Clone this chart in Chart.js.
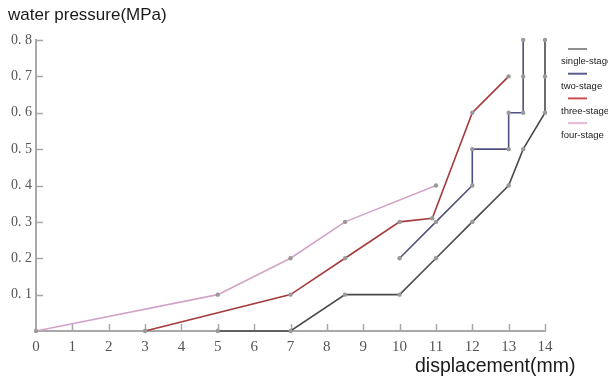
<!DOCTYPE html>
<html>
<head>
<meta charset="utf-8">
<script src="https://cdn.jsdelivr.net/npm/chart.js@4.4.1/dist/chart.umd.min.js"></script>
<style>
  html, body { margin: 0; padding: 0; background: #fff; }
  #wrap { width: 608px; height: 381px; position: relative; }
</style>
</head>
<body>
<div id="wrap"><canvas id="c" width="608" height="381"></canvas></div>
<script>
// ---- data ----
const seriesNames = ['single-stage', 'two-stage', 'three-stage', 'four-stage'];
const singleX = [5, 7, 8.5, 10, 11, 12, 13, 13.4, 14, 14, 14];
const singleY = [0, 0, 0.1, 0.1, 0.2, 0.3, 0.4, 0.5, 0.6, 0.7, 0.8];
const twoX = [10, 11, 12, 12, 13, 13, 13.4, 13.4, 13.4];
const twoY = [0.2, 0.3, 0.4, 0.5, 0.5, 0.6, 0.6, 0.7, 0.8];
const threeX = [3, 7, 8.5, 10, 10.9, 12, 13];
const threeY = [0, 0.1, 0.2, 0.3, 0.31, 0.6, 0.7];
const fourX = [0, 5, 7, 8.5, 11];
const fourY = [0, 0.1, 0.2, 0.3, 0.4];
const xTickValues = [0, 1, 2, 3, 4, 5, 6, 7, 8, 9, 10, 11, 12, 13, 14];
const yTickLabels = ['', '0. 1', '0. 2', '0. 3', '0. 4', '0. 5', '0. 6', '0. 7', '0. 8'];
const yAxisTitle = 'water pressure(MPa)';
const xAxisTitle = 'displacement(mm)';

// ---- styles ----
const lineColors = ['#4a4a4a', '#4d5080', '#a33b3b', '#d4a3c9'];
const legendColors = ['#8f8f8f', '#5a5c8c', '#c85252', '#e6b8d6'];

function pts(xs, ys) { return xs.map((x, i) => ({ x: x, y: ys[i] })); }
const seriesData = [pts(singleX, singleY), pts(twoX, twoY), pts(threeX, threeY), pts(fourX, fourY)];

const datasets = seriesData.map((d, i) => ({
  label: seriesNames[i],
  data: d,
  borderColor: lineColors[i],
  borderWidth: 1.6,
  pointRadius: 2.2,
  pointBackgroundColor: '#9a9a9a',
  pointBorderWidth: 0,
  tension: 0,
  fill: false,
  clip: false
}));

const decor = {
  id: 'decor',
  beforeDatasetsDraw(chart) {
    const ctx = chart.ctx;
    const xs = chart.scales.x, ys = chart.scales.y;
    const a = chart.chartArea;
    ctx.save();
    ctx.strokeStyle = '#a8a8a8';
    ctx.lineWidth = 1.5;
    ctx.beginPath();
    xTickValues.forEach(v => {
      if (v === 0) return;
      const px = Math.round(xs.getPixelForValue(v)) + 0.5;
      ctx.moveTo(px, a.bottom);
      ctx.lineTo(px, a.bottom - 7);
    });
    ys.ticks.forEach(t => {
      if (t.value === 0) return;
      const py = Math.round(ys.getPixelForValue(t.value)) + 0.5;
      ctx.moveTo(a.left, py);
      ctx.lineTo(a.left + 7, py);
    });
    ctx.stroke();
    ctx.restore();
  },
  afterDraw(chart) {
    const ctx = chart.ctx;
    ctx.save();
    ctx.fillStyle = '#1a1a1a';
    ctx.textBaseline = 'alphabetic';
    ctx.textAlign = 'left';
    ctx.font = '17px "Liberation Sans", Arial, sans-serif';
    ctx.fillText(yAxisTitle, 8, 20);
    ctx.font = '19.5px "Liberation Sans", Arial, sans-serif';
    ctx.fillText(xAxisTitle, 415, 372);
    // legend
    ctx.font = '9.5px "Liberation Sans", Arial, sans-serif';
    ctx.textBaseline = 'middle';
    seriesNames.forEach((name, i) => {
      const ly = 49 + i * 24.7;
      ctx.strokeStyle = legendColors[i];
      ctx.lineWidth = 2;
      ctx.beginPath();
      ctx.moveTo(568, ly);
      ctx.lineTo(587, ly);
      ctx.stroke();
      ctx.fillStyle = '#222';
      ctx.fillText(name, 561, ly + 12.5);
    });
    ctx.restore();
  }
};

new Chart(document.getElementById('c'), {
  type: 'line',
  data: { datasets: datasets },
  plugins: [decor],
  options: {
    responsive: false,
    devicePixelRatio: 1,
    animation: false,
    layout: { padding: { left: 0, top: 40, right: 63, bottom: 0 } },
    plugins: { legend: { display: false }, tooltip: { enabled: false }, title: { display: false } },
    scales: {
      x: {
        type: 'linear',
        min: 0, max: 14,
        afterFit(s) { s.height = 50; },
        afterBuildTicks(s) { s.ticks = xTickValues.map(v => ({ value: v })); },
        grid: { display: false, drawTicks: false },
        border: { display: true, color: '#a8a8a8', width: 2 },
        ticks: {
          padding: 7,
          color: '#555',
          font: { family: '"Liberation Serif", "DejaVu Serif", serif', size: 15 },
          maxRotation: 0,
          autoSkip: false,
          callback: v => String(v)
        }
      },
      y: {
        type: 'linear',
        min: 0, max: 0.8,
        afterFit(s) { s.width = 36; },
        afterBuildTicks(s) { s.ticks = yTickLabels.map((l, i) => ({ value: i / 10 })); },
        grid: { display: false, drawTicks: false },
        border: { display: true, color: '#a8a8a8', width: 2 },
        ticks: {
          padding: 4,
          color: '#555',
          font: { family: '"Liberation Serif", "DejaVu Serif", serif', size: 14 },
          autoSkip: false,
          callback: (v, i) => yTickLabels[i]
        }
      }
    }
  }
});
</script>
</body>
</html>
